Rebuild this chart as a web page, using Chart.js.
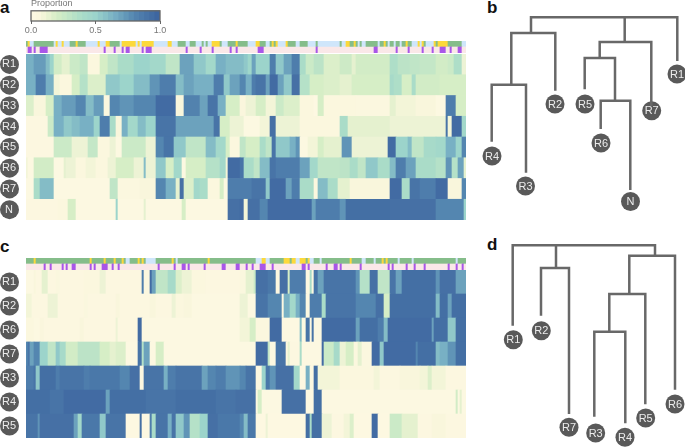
<!DOCTYPE html>
<html lang="en">
<head>
<meta charset="UTF-8">
<title>Proportion heatmaps</title>
<script src="https://cdn.jsdelivr.net/npm/chart.js@4"></script>
<style>
  body { margin: 0; background: #fff; overflow: hidden; }
  canvas { position: absolute; }
  .tag { position: absolute; font: bold 17px "Liberation Sans", sans-serif; color: #111; line-height: 17px; }
</style>
</head>
<body>
<div class="tag" style="left:0;top:-1px">a</div>
<div class="tag" style="left:487px;top:-1px">b</div>
<div class="tag" style="left:0;top:238px">c</div>
<div class="tag" style="left:487px;top:236px">d</div>
<canvas id="legend" width="185" height="36" style="left:0;top:-2px"></canvas>
<canvas id="trackA" width="440" height="12" style="left:26px;top:41px"></canvas>
<canvas id="heatA" width="466" height="166" style="left:0;top:54px"></canvas>
<canvas id="treeB" width="210" height="224" style="left:475px;top:0"></canvas>
<canvas id="trackC" width="440" height="12" style="left:26px;top:258px"></canvas>
<canvas id="heatC" width="466" height="168" style="left:0;top:270px"></canvas>
<canvas id="treeD" width="210" height="224" style="left:475px;top:224px"></canvas>
<script>
  // every row is a list of [first sample, value], a run lasts until the next one starts
  const sampleCount = 220;

  const legendLevels = [0, .04, .08, .12, .16, .2, .24, .28, .32, .36, .4, .44, .48, .52, .56, .6, .64, .68, .72, .76, .8, .84, .88, .92, .96];

  // panel a
  const rowsA = ['R1', 'R2', 'R3', 'R4', 'R5', 'R6', 'R7', 'N'];
  const cellA = [[0,1],[1,2],[2,0],[4,1],[14,0],[15,2],[16,0],[18,2],[19,0],[22,1],[25,2],[26,1],[30,0],[36,2],[37,0],[40,2],[42,1],[47,0],[48,2],[55,0],[56,2],[57,0],[58,2],[64,0],[71,2],[73,0],[76,1],[80,0],[82,1],[85,0],[88,1],[89,0],[90,1],[91,0],[93,2],[97,1],[98,0],[101,1],[105,2],[106,1],[111,0],[115,2],[117,1],[120,0],[122,1],[123,2],[124,1],[125,2],[126,0],[130,2],[131,1],[135,0],[137,1],[141,0],[145,1],[146,0],[157,1],[158,0],[160,2],[162,1],[164,2],[165,1],[166,0],[167,1],[168,0],[170,1],[176,0],[177,1],[179,2],[180,1],[181,0],[182,1],[184,0],[185,1],[187,0],[188,1],[190,2],[191,1],[193,0],[196,2],[197,0],[198,2],[199,1],[200,0],[204,2],[205,1],[206,2],[211,1],[218,0]];
  const tissueA = [[0,0],[1,1],[3,0],[4,1],[5,0],[7,1],[11,0],[39,1],[40,0],[44,1],[45,0],[48,1],[49,0],[50,1],[52,0],[58,1],[59,0],[60,1],[63,0],[80,1],[81,0],[87,1],[88,0],[93,1],[94,0],[102,1],[103,0],[105,1],[106,0],[116,1],[119,0],[145,1],[146,0],[174,1],[176,0],[185,1],[186,0],[191,1],[192,0],[198,1],[199,0],[203,1],[204,0],[207,1],[210,0],[212,1],[213,0],[216,1],[218,0]];
  const a_R1 = [[0,.65],[4,.72],[10,.6],[12,.5],[14,.22],[18,.15],[22,.25],[27,.3],[31,.05],[37,.2],[41,.3],[46,.4],[54,.5],[62,.45],[70,.3],[77,.7],[84,.55],[90,.45],[95,.65],[100,.6],[109,.55],[111,.48],[113,.7],[115,.5],[122,.85],[125,.55],[129,.7],[133,.85],[137,.4],[140,.25],[144,.32],[149,.18],[157,.24],[163,.15],[165,.22],[182,.38],[186,.32],[192,.3],[197,.28],[205,.22],[211,.25],[214,.38],[218,.12]];
  const a_R2 = [[0,.65],[5,.85],[10,.65],[14,.1],[17,.05],[23,.2],[27,.35],[31,.18],[40,.55],[47,.5],[54,.6],[62,.75],[67,.85],[75,.6],[79,.7],[84,.65],[94,.85],[99,.55],[102,.7],[107,.8],[110,.65],[113,.85],[115,.9],[120,.7],[122,.95],[126,.7],[129,.55],[133,.92],[137,.35],[142,.2],[149,.18],[157,.15],[163,.2],[182,.42],[184,.38],[188,.2],[193,.4],[195,.22],[207,.2]];
  const a_R3 = [[0,.18],[4,.08],[10,.2],[14,.65],[18,.72],[25,.8],[30,.6],[34,.72],[39,.05],[42,.8],[47,.75],[54,.8],[65,.95],[75,.08],[79,.82],[87,.7],[91,.9],[96,.65],[100,.2],[107,.07],[110,.12],[115,.2],[120,.1],[125,.25],[129,.18],[137,.05],[144,0],[146,.2],[149,.05],[165,.04],[182,.15],[185,.1],[195,.08],[205,.02],[210,.85],[215,.2]];
  const a_R4 = [[0,.03],[11,.25],[14,.65],[19,.55],[23,.6],[27,.65],[34,.5],[37,.85],[42,.4],[45,.08],[48,.65],[51,.45],[56,.6],[60,.5],[65,.9],[75,.7],[94,.9],[97,.2],[102,.12],[107,.12],[109,.02],[117,.1],[122,.92],[125,.12],[137,.05],[157,.4],[161,.15],[182,.12],[210,.9],[211,.1],[213,.95],[218,.45]];
  const a_R5 = [[0,.03],[14,.25],[23,.12],[31,.28],[36,.05],[42,.12],[45,.02],[48,.25],[60,.12],[65,.8],[69,.9],[74,.55],[80,.3],[90,.6],[95,.45],[100,.2],[102,.05],[107,.3],[110,.2],[117,.4],[120,.3],[123,.9],[125,.55],[132,.65],[135,.75],[137,.02],[141,.1],[146,.2],[149,.15],[158,.75],[163,.12],[181,.95],[185,.5],[191,.6],[193,.3],[199,.42],[205,.45],[210,.65],[215,.5],[218,.8]];
  const a_R6 = [[0,.1],[1,.02],[4,.22],[14,.02],[19,.15],[20,.12],[25,.05],[30,.1],[35,.05],[41,.12],[45,.2],[54,.12],[59,.6],[60,.12],[65,.55],[70,.2],[74,.45],[78,.02],[80,.2],[90,.35],[97,.45],[100,.1],[101,.95],[107,.9],[109,.4],[114,.3],[117,.6],[122,.9],[125,.85],[137,.7],[142,.45],[146,.3],[157,.32],[162,.4],[166,.3],[170,.55],[176,.4],[182,.6],[185,.85],[190,.7],[195,.4],[205,.35],[210,.75],[213,.35],[216,.7],[219,.15]];
  const a_R7 = [[0,.02],[4,.4],[7,.6],[14,.02],[42,.3],[46,.04],[57,.08],[65,.8],[70,.65],[75,.15],[77,.92],[79,.18],[84,.45],[87,.4],[91,.05],[97,.2],[99,.02],[101,.85],[113,.9],[120,.55],[122,.95],[130,.7],[133,.85],[137,.4],[144,.05],[146,.6],[151,.4],[156,.15],[162,.08],[182,.95],[188,.4],[192,.9],[197,.85],[205,.95],[211,.08],[218,.8]];
  const a_N = [[0,.03],[16,.05],[21,.2],[25,.02],[45,.5],[46,.02],[59,.15],[60,.02],[78,.2],[80,.02],[101,.92],[107,.95],[109,.1],[111,.92],[117,.8],[121,.95],[143,.7],[145,.85],[157,.75],[160,.93],[182,.92],[205,.8],[219,.5]];

  // panel c
  const rowsC = ['R1', 'R2', 'R6', 'R7', 'R3', 'R4', 'R5'];
  const cellC = [[0,1],[4,2],[5,1],[32,2],[33,1],[39,2],[40,1],[44,2],[45,1],[48,2],[49,1],[50,0],[52,1],[56,2],[57,1],[58,2],[59,1],[60,0],[65,1],[73,2],[74,1],[75,0],[76,1],[91,2],[92,1],[115,0],[118,2],[120,0],[122,1],[129,2],[132,1],[133,2],[135,0],[137,2],[140,1],[141,2],[142,0],[144,1],[147,0],[148,1],[162,2],[163,1],[168,0],[170,1],[174,0],[175,1],[178,2],[179,1],[180,2],[181,1],[186,0],[187,1],[193,0],[194,1],[215,0],[216,1]];
  const tissueC = [[0,0],[9,1],[10,0],[12,1],[13,0],[18,1],[19,0],[20,1],[21,0],[23,1],[25,0],[32,1],[33,0],[34,1],[35,0],[38,1],[41,0],[43,1],[44,0],[46,1],[47,0],[66,1],[67,0],[74,1],[75,0],[78,1],[80,0],[81,1],[82,0],[89,1],[90,0],[98,1],[100,0],[105,1],[107,0],[110,1],[111,0],[113,1],[114,0],[117,1],[120,0],[123,1],[124,0],[138,1],[140,0],[141,1],[142,0],[150,1],[151,0],[154,1],[156,0],[157,1],[158,0],[167,1],[168,0],[181,1],[182,0],[183,1],[184,0],[190,1],[191,0],[194,1],[195,0],[199,1],[200,0],[211,1],[212,0],[215,1],[216,0],[218,1],[219,0]];
  const c_R1 = [[0,.02],[4,.08],[5,.03],[8,.15],[11,.03],[15,.06],[17,.03],[29,.05],[37,.12],[40,.03],[58,.85],[59,.04],[62,.95],[63,.7],[65,.3],[71,.42],[75,.18],[78,.12],[83,.05],[90,.03],[107,.06],[110,.15],[114,.25],[115,.92],[121,.88],[125,.03],[127,.92],[131,.2],[132,.85],[140,.02],[142,.4],[143,.02],[144,.9],[146,.7],[149,.9],[165,.75],[167,.35],[172,.92],[176,.3],[182,.9],[185,.7],[188,.93],[205,.75],[207,.92],[215,.7]];
  const c_R2 = [[0,.1],[3,.03],[11,.12],[16,.03],[29,.06],[31,.03],[45,.08],[47,.03],[62,.08],[65,.03],[73,.12],[75,.05],[79,.08],[83,.02],[107,.12],[111,.02],[115,.9],[121,.8],[128,.02],[129,.65],[132,.45],[135,.65],[137,.8],[140,.02],[142,.85],[148,.4],[150,.9],[165,.8],[175,.92],[179,.2],[182,.93],[205,.6],[207,.93],[211,.7],[213,.93]];
  const c_R6 = [[0,.05],[4,.02],[7,.07],[9,.03],[27,.08],[29,.03],[45,.12],[46,.03],[56,.95],[58,.02],[107,.1],[112,.2],[115,.05],[122,.95],[128,.01],[137,.6],[138,.02],[140,.9],[142,.02],[143,.9],[144,.02],[148,.95],[165,.7],[167,.93],[176,.85],[179,.6],[181,.95],[203,.7],[204,.93],[211,.55],[215,.93]];
  const c_R7 = [[0,.8],[1,.9],[2,.7],[4,.8],[7,.5],[11,.3],[15,.55],[17,.42],[20,.22],[26,.32],[37,.2],[42,.15],[45,.18],[50,.02],[56,.9],[58,.35],[59,.7],[62,.02],[65,.2],[69,.02],[115,.95],[121,.3],[122,.02],[125,.9],[130,.05],[131,.15],[132,.03],[137,.4],[138,.02],[148,.95],[149,.25],[154,.42],[157,.12],[160,.2],[164,.05],[166,.15],[168,.04],[173,.95],[177,.55],[179,.95],[195,.8],[196,.93],[205,.6],[207,.65],[211,.75],[215,.93]];
  const c_R3 = [[0,.85],[4,.9],[5,.55],[7,.93],[15,.85],[17,.9],[29,.85],[32,.88],[47,.8],[52,.92],[57,.03],[59,.9],[69,.65],[71,.85],[75,.9],[88,.7],[91,.8],[95,.85],[100,.75],[107,.8],[110,.9],[115,.03],[118,.5],[120,.88],[122,.75],[125,.92],[134,.45],[137,.02],[140,.65],[142,.02],[144,.93],[146,.1],[157,.05],[174,.1],[177,.03],[187,.08],[197,.1],[201,.18],[203,.1],[210,.03]];
  const c_R4 = [[0,.93],[12,.9],[19,.95],[40,.7],[42,.93],[60,.9],[75,.93],[95,.9],[105,.92],[115,.02],[116,.2],[118,.02],[128,.92],[140,.01],[144,.93],[148,.02],[215,.22],[216,.02],[217,.15],[218,.02]];
  const c_R5 = [[0,.9],[6,.75],[7,.92],[24,.7],[26,.45],[28,.88],[37,.55],[40,.9],[50,.01],[57,.93],[58,.01],[62,.85],[63,.4],[65,.9],[71,.65],[73,.9],[75,.55],[79,.75],[82,.35],[87,.5],[91,.92],[96,.88],[107,.8],[109,.6],[111,.88],[115,.01],[120,.12],[121,.01],[140,.93],[142,.4],[143,.93],[148,.12],[153,.03],[159,.1],[162,.18],[164,.01],[173,.95],[176,.01],[182,.25],[188,.15],[196,.03],[203,.08],[210,.03]];

  // dendrogram b: each link is [left x, left bottom, right x, right bottom, top]
  const leavesB = ['R4', 'R3', 'R2', 'R5', 'R6', 'N', 'R7', 'R1'];
  const leafXB = [17, 50.5, 80, 110, 126, 155.5, 176.7, 202];
  const leafYB = [156, 186, 104, 104, 143, 201.5, 110.7, 74];
  const linksB = [
    [56, 33, 202.3, 61, 17.3],
    [149.7, 42, 149.7, 42, 17.3],
    [36.3, 84.7, 80.3, 90.7, 33],
    [16.7, 141.7, 51, 172.7, 84.7],
    [124.7, 58, 176.3, 106, 42],
    [109.7, 89.3, 140, 100.7, 58],
    [125.7, 129, 155.3, 190, 100.7]
  ];

  // dendrogram d
  const leavesD = ['R1', 'R2', 'R7', 'R3', 'R4', 'R5', 'R6'];
  const leafXD = [38.3, 66.3, 94, 120.7, 150, 170.7, 200];
  const leafYD = [115.7, 106.7, 203.3, 209, 213.3, 194, 180];
  const linksD = [
    [37.7, 101.7, 180, 31.7, 21.3],
    [81, 44, 81, 44, 21.3],
    [66, 91.7, 94, 190, 44],
    [154.3, 70, 200, 165.7, 31.7],
    [134.3, 107.7, 170.3, 180.3, 70],
    [119.3, 192.7, 150.3, 199.3, 107.7]
  ];

  const colorStops = [
    [0, [253, 248, 226]], [.08, [249, 246, 220]], [.2, [214, 238, 198]], [.4, [170, 220, 200]], [.5, [156, 212, 203]],
    [.65, [120, 176, 196]], [.8, [84, 134, 176]], [1, [60, 98, 158]]
  ];
  const cellColors = ['#cfe6fb', '#85bd8a', '#fcd93b'];
  const tissueColors = ['#fae8e8', '#a956e8'];

  function proportionColor(v) {
    let i = 0;
    while (i < colorStops.length - 2 && v > colorStops[i + 1][0]) i++;
    const [a, ca] = colorStops[i], [b, cb] = colorStops[i + 1];
    const t = (v - a) / (b - a);
    return `rgb(${ca.map((c, k) => Math.round(c + (cb[k] - c) * t)).join(',')})`;
  }

  function toBars(label, runs, end) {
    return runs.map((r, i) => ({ x: [r[0], i + 1 < runs.length ? runs[i + 1][0] : end], y: label, v: r[1] }));
  }

  const badgePlugin = {
    id: 'badges',
    beforeDraw(chart) {
      const y = chart.scales.y, ctx = chart.ctx;
      ctx.save();
      ctx.fillStyle = '#595959';
      y.getLabels().forEach((label, i) => {
        ctx.beginPath();
        ctx.arc(9.5, y.getPixelForValue(i), 9.5, 0, Math.PI * 2);
        ctx.fill();
      });
      ctx.restore();
    }
  };

  function heatmap(id, labels, rows) {
    const data = rows.flatMap((runs, i) => toBars(labels[i], runs, sampleCount));
    new Chart(document.getElementById(id), {
      type: 'bar',
      data: { labels, datasets: [{ data, borderWidth: 0, barPercentage: 1, categoryPercentage: 1,
        backgroundColor: c => c.raw ? proportionColor(c.raw.v) : '#fff' }] },
      options: {
        indexAxis: 'y', responsive: false, animation: false, devicePixelRatio: 1,
        layout: { padding: 0 },
        plugins: { legend: { display: false }, tooltip: { enabled: false } },
        scales: {
          x: { display: false, min: 0, max: sampleCount },
          y: {
            afterFit: s => { s.width = 26; s.paddingTop = 0; s.paddingBottom = 0; },
            border: { display: false }, grid: { display: false },
            ticks: { autoSkip: false, crossAlign: 'center', padding: 2, color: '#ececec', font: { family: 'Liberation Sans', size: 11 } }
          }
        }
      },
      plugins: [badgePlugin]
    });
  }

  function tracks(id, cell, tissue) {
    const labels = ['cell', 'tissue'];
    const data = toBars('cell', cell, sampleCount).map(d => ({ ...d, c: cellColors[d.v] }))
      .concat(toBars('tissue', tissue, sampleCount).map(d => ({ ...d, c: tissueColors[d.v] })));
    new Chart(document.getElementById(id), {
      type: 'bar',
      data: { labels, datasets: [{ data, borderWidth: 0, barPercentage: 1, categoryPercentage: 1,
        backgroundColor: c => c.raw ? c.raw.c : '#fff' }] },
      options: {
        indexAxis: 'y', responsive: false, animation: false, devicePixelRatio: 1,
        plugins: { legend: { display: false }, tooltip: { enabled: false } },
        scales: { x: { display: false, min: 0, max: sampleCount }, y: { display: false } }
      }
    });
  }

  function dendrogram(id, leaves, leafX, leafY, links) {
    const linkSets = links.map(([x1, b1, x2, b2, top]) => ({
      data: [{ x: x1, y: b1 }, { x: x1, y: top }, { x: x2, y: top }, { x: x2, y: b2 }],
      showLine: true, pointRadius: 0, borderColor: '#686868', borderWidth: 2.5, borderJoinStyle: 'miter', borderCapStyle: 'butt'
    }));
    const dots = { data: leaves.map((n, i) => ({ x: leafX[i], y: leafY[i] })), pointRadius: 9.5, pointBackgroundColor: '#595959', pointBorderWidth: 0, clip: false };
    new Chart(document.getElementById(id), {
      type: 'scatter',
      data: { datasets: [...linkSets, dots] },
      options: {
        responsive: false, animation: false, devicePixelRatio: 1,
        layout: { autoPadding: false },
        plugins: { legend: { display: false }, tooltip: { enabled: false } },
        scales: {
          x: { display: false, min: 0, max: 210 },
          y: { display: false, min: 0, max: 224, reverse: true }
        }
      },
      plugins: [{
        id: 'leafNames',
        afterDatasetsDraw(chart) {
          const ctx = chart.ctx;
          ctx.save();
          ctx.fillStyle = '#ececec';
          ctx.font = '11px "Liberation Sans"';
          ctx.textAlign = 'center';
          ctx.textBaseline = 'middle';
          leaves.forEach((n, i) => ctx.fillText(n, chart.scales.x.getPixelForValue(leafX[i]), chart.scales.y.getPixelForValue(leafY[i]) + .5));
          ctx.restore();
        }
      }]
    });
  }

  // colour key
  new Chart(document.getElementById('legend'), {
    type: 'bar',
    data: {
      labels: ['key'],
      datasets: [{
        data: legendLevels.map(v => ({ x: [v, 1], y: 'key', v })),
        borderWidth: 0, barPercentage: 1, categoryPercentage: 1,
        backgroundColor: c => c.raw ? proportionColor(c.raw.v + .02) : '#fff'
      }]
    },
    options: {
      indexAxis: 'y', responsive: false, animation: false, devicePixelRatio: 1,
      layout: { padding: { left: 31, right: 25 } },
      plugins: {
        legend: { display: false }, tooltip: { enabled: false },
        title: { display: true, text: 'Proportion', align: 'start', color: '#777', padding: { top: 0, bottom: 2 }, font: { family: 'Liberation Sans', size: 9, weight: 'normal' } }
      },
      scales: {
        x: {
          min: 0, max: 1,
          afterFit: s => { s.height = 13; },
          border: { display: false },
          grid: { drawOnChartArea: false, color: '#666', tickLength: 3 },
          ticks: { stepSize: .5, maxRotation: 0, padding: 1, color: '#777', font: { family: 'Liberation Sans', size: 9 }, callback: v => v.toFixed(1) }
        },
        y: { display: false }
      }
    },
    plugins: [{
      id: 'keyFrame',
      afterDatasetsDraw(chart) {
        const a = chart.chartArea, ctx = chart.ctx;
        ctx.save();
        ctx.strokeStyle = '#666';
        ctx.lineWidth = 1.3;
        ctx.strokeRect(a.left, a.top, a.width, a.height);
        ctx.restore();
      }
    }]
  });

  tracks('trackA', cellA, tissueA);
  heatmap('heatA', rowsA, [a_R1, a_R2, a_R3, a_R4, a_R5, a_R6, a_R7, a_N]);
  dendrogram('treeB', leavesB, leafXB, leafYB, linksB);
  tracks('trackC', cellC, tissueC);
  heatmap('heatC', rowsC, [c_R1, c_R2, c_R6, c_R7, c_R3, c_R4, c_R5]);
  dendrogram('treeD', leavesD, leafXD, leafYD, linksD);
</script>
</body>
</html>
